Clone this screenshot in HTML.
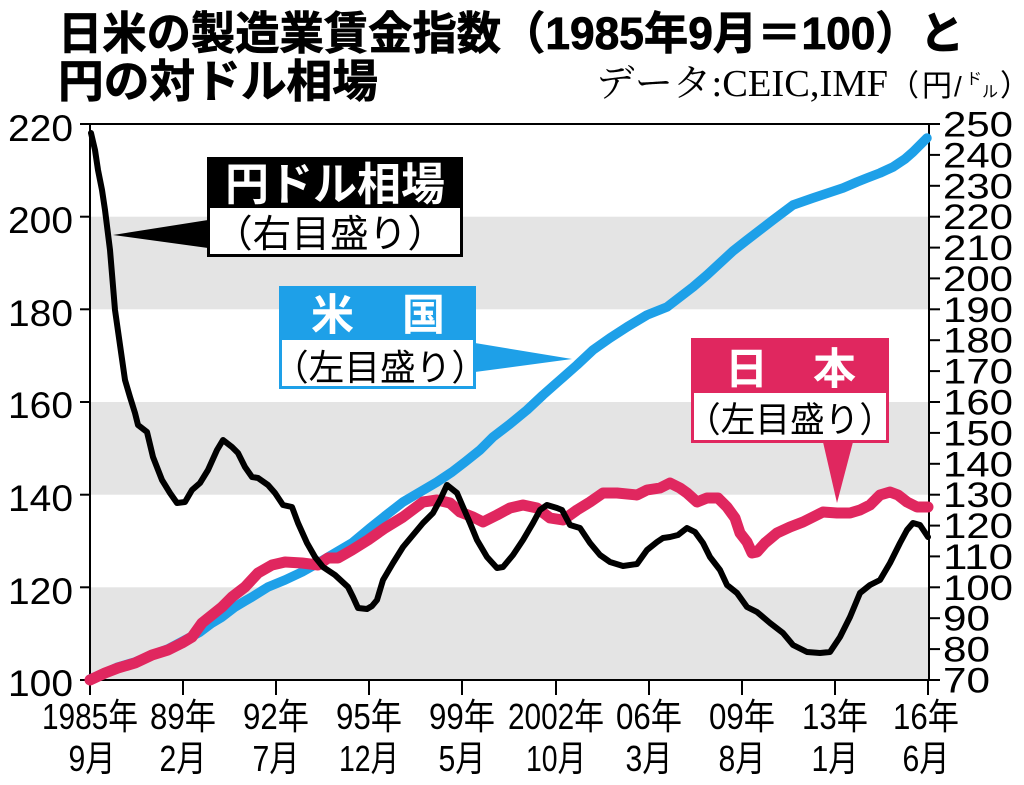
<!DOCTYPE html>
<html><head><meta charset="utf-8">
<style>
html,body{margin:0;padding:0;background:#fff;}
svg{display:block;}
.s{font-family:"Liberation Sans","Noto Sans CJK JP",sans-serif;}
.sr{font-family:"Liberation Serif","Noto Serif CJK JP",serif;}
</style></head>
<body>
<svg width="1024" height="785" viewBox="0 0 1024 785" xmlns="http://www.w3.org/2000/svg">
<rect x="0" y="0" width="1024" height="785" fill="#fff"/>
<!-- title -->
<text class="s" x="58" y="49" font-size="45" font-weight="bold" stroke="#000" stroke-width="0.8" textLength="906" lengthAdjust="spacingAndGlyphs">日米の製造業賃金指数（1985年9月＝100）と</text>
<text class="s" x="58" y="97" font-size="45" font-weight="bold" stroke="#000" stroke-width="0.8" textLength="320" lengthAdjust="spacingAndGlyphs">円の対ドル相場</text>
<text class="sr" x="596" y="96" font-size="38" textLength="292" lengthAdjust="spacingAndGlyphs">データ:CEIC,IMF</text>
<text class="s" x="889" y="96" font-size="30">（</text>
<text class="s" x="922" y="96" font-size="30">円</text>
<text class="s" x="954" y="96" font-size="28">/</text>
<text class="s" x="966" y="84" font-size="16">ド</text>
<text class="s" x="982" y="97" font-size="16">ル</text>
<text class="s" x="1000" y="96" font-size="30">）</text>

<!-- bands -->
<rect x="91" y="216.7" width="837" height="92.6" fill="#e4e4e4"/>
<rect x="91" y="402" width="837" height="92.7" fill="#e4e4e4"/>
<rect x="91" y="587.3" width="837" height="92.7" fill="#e4e4e4"/>

<!-- axes -->
<g stroke="#000" stroke-width="2" fill="none">
<line x1="90" y1="124" x2="90" y2="680"/>
<line x1="929" y1="124" x2="929" y2="680"/>
<line x1="80" y1="124" x2="940" y2="124"/>
<line x1="80" y1="680" x2="940" y2="680"/>
<line x1="80" y1="216.7" x2="90" y2="216.7"/>
<line x1="80" y1="309.3" x2="90" y2="309.3"/>
<line x1="80" y1="402" x2="90" y2="402"/>
<line x1="80" y1="494.7" x2="90" y2="494.7"/>
<line x1="80" y1="587.3" x2="90" y2="587.3"/>
<line x1="929" y1="154.9" x2="940" y2="154.9"/>
<line x1="929" y1="185.8" x2="940" y2="185.8"/>
<line x1="929" y1="216.7" x2="940" y2="216.7"/>
<line x1="929" y1="247.6" x2="940" y2="247.6"/>
<line x1="929" y1="278.4" x2="940" y2="278.4"/>
<line x1="929" y1="309.3" x2="940" y2="309.3"/>
<line x1="929" y1="340.2" x2="940" y2="340.2"/>
<line x1="929" y1="371.1" x2="940" y2="371.1"/>
<line x1="929" y1="402" x2="940" y2="402"/>
<line x1="929" y1="432.9" x2="940" y2="432.9"/>
<line x1="929" y1="463.8" x2="940" y2="463.8"/>
<line x1="929" y1="494.7" x2="940" y2="494.7"/>
<line x1="929" y1="525.6" x2="940" y2="525.6"/>
<line x1="929" y1="556.4" x2="940" y2="556.4"/>
<line x1="929" y1="587.3" x2="940" y2="587.3"/>
<line x1="929" y1="618.2" x2="940" y2="618.2"/>
<line x1="929" y1="649.1" x2="940" y2="649.1"/>
<line x1="90" y1="680" x2="90" y2="695"/>
<line x1="183" y1="680" x2="183" y2="695"/>
<line x1="276" y1="680" x2="276" y2="695"/>
<line x1="369" y1="680" x2="369" y2="695"/>
<line x1="462" y1="680" x2="462" y2="695"/>
<line x1="556" y1="680" x2="556" y2="695"/>
<line x1="649" y1="680" x2="649" y2="695"/>
<line x1="742" y1="680" x2="742" y2="695"/>
<line x1="835" y1="680" x2="835" y2="695"/>
<line x1="928" y1="680" x2="928" y2="695"/>
</g>

<!-- left labels -->
<g class="s" font-size="37" text-anchor="end" fill="#000">
<text x="73" y="141" textLength="65" lengthAdjust="spacingAndGlyphs">220</text>
<text x="73" y="233" textLength="65" lengthAdjust="spacingAndGlyphs">200</text>
<text x="73" y="326" textLength="65" lengthAdjust="spacingAndGlyphs">180</text>
<text x="73" y="418" textLength="65" lengthAdjust="spacingAndGlyphs">160</text>
<text x="73" y="511" textLength="65" lengthAdjust="spacingAndGlyphs">140</text>
<text x="73" y="604" textLength="65" lengthAdjust="spacingAndGlyphs">120</text>
<text x="73" y="696" textLength="65" lengthAdjust="spacingAndGlyphs">100</text>
</g>
<!-- right labels -->
<g class="s" font-size="35" fill="#000">
<text x="943" y="136.5" textLength="70" lengthAdjust="spacingAndGlyphs">250</text>
<text x="943" y="167.4" textLength="70" lengthAdjust="spacingAndGlyphs">240</text>
<text x="943" y="198.3" textLength="70" lengthAdjust="spacingAndGlyphs">230</text>
<text x="943" y="229.2" textLength="70" lengthAdjust="spacingAndGlyphs">220</text>
<text x="943" y="260.1" textLength="70" lengthAdjust="spacingAndGlyphs">210</text>
<text x="943" y="290.9" textLength="70" lengthAdjust="spacingAndGlyphs">200</text>
<text x="943" y="321.8" textLength="70" lengthAdjust="spacingAndGlyphs">190</text>
<text x="943" y="352.7" textLength="70" lengthAdjust="spacingAndGlyphs">180</text>
<text x="943" y="383.6" textLength="70" lengthAdjust="spacingAndGlyphs">170</text>
<text x="943" y="414.5" textLength="70" lengthAdjust="spacingAndGlyphs">160</text>
<text x="943" y="445.4" textLength="70" lengthAdjust="spacingAndGlyphs">150</text>
<text x="943" y="476.3" textLength="70" lengthAdjust="spacingAndGlyphs">140</text>
<text x="943" y="507.2" textLength="70" lengthAdjust="spacingAndGlyphs">130</text>
<text x="943" y="538.1" textLength="70" lengthAdjust="spacingAndGlyphs">120</text>
<text x="943" y="568.9" textLength="70" lengthAdjust="spacingAndGlyphs">110</text>
<text x="943" y="599.8" textLength="70" lengthAdjust="spacingAndGlyphs">100</text>
<text x="943" y="630.7" textLength="47" lengthAdjust="spacingAndGlyphs">90</text>
<text x="943" y="661.6" textLength="47" lengthAdjust="spacingAndGlyphs">80</text>
<text x="943" y="692.5" textLength="47" lengthAdjust="spacingAndGlyphs">70</text>
</g>

<!-- x labels -->
<g class="s" font-size="36" text-anchor="middle" fill="#000">
<text x="90" y="729" textLength="96" lengthAdjust="spacingAndGlyphs">1985年</text>
<text x="183" y="729" textLength="66" lengthAdjust="spacingAndGlyphs">89年</text>
<text x="276" y="729" textLength="66" lengthAdjust="spacingAndGlyphs">92年</text>
<text x="369" y="729" textLength="66" lengthAdjust="spacingAndGlyphs">95年</text>
<text x="462" y="729" textLength="66" lengthAdjust="spacingAndGlyphs">99年</text>
<text x="556" y="729" textLength="96" lengthAdjust="spacingAndGlyphs">2002年</text>
<text x="649" y="729" textLength="66" lengthAdjust="spacingAndGlyphs">06年</text>
<text x="742" y="729" textLength="66" lengthAdjust="spacingAndGlyphs">09年</text>
<text x="835" y="729" textLength="66" lengthAdjust="spacingAndGlyphs">13年</text>
<text x="926" y="729" textLength="66" lengthAdjust="spacingAndGlyphs">16年</text>
<text x="92" y="771" textLength="47" lengthAdjust="spacingAndGlyphs">9月</text>
<text x="183" y="771" textLength="47" lengthAdjust="spacingAndGlyphs">2月</text>
<text x="276" y="771" textLength="47" lengthAdjust="spacingAndGlyphs">7月</text>
<text x="369" y="771" textLength="60" lengthAdjust="spacingAndGlyphs">12月</text>
<text x="462" y="771" textLength="47" lengthAdjust="spacingAndGlyphs">5月</text>
<text x="556" y="771" textLength="60" lengthAdjust="spacingAndGlyphs">10月</text>
<text x="649" y="771" textLength="47" lengthAdjust="spacingAndGlyphs">3月</text>
<text x="742" y="771" textLength="47" lengthAdjust="spacingAndGlyphs">8月</text>
<text x="835" y="771" textLength="47" lengthAdjust="spacingAndGlyphs">1月</text>
<text x="926" y="771" textLength="47" lengthAdjust="spacingAndGlyphs">6月</text>
</g>

<!-- US line -->
<polyline fill="none" stroke="#1ea0e8" stroke-width="9.5" stroke-linejoin="round" stroke-linecap="round" points="90,679 105,673 118,667 135,662 152,655 168,649 185,640 200,632 212,623 222,617 235,607 245,601 252,597 268,587 285,580 302,572 318,563 335,553 352,543 370,528 385,516 403,502 420,492 437,482 452,472 465,462 480,450 493,437 510,424 527,410 543,395 560,380 577,365 593,350 610,338 627,327 647,315 667,307 680,297 693,287 707,275 720,263 733,251 747,240 760,230 773,220 793,205 813,198 828,193 843,188 857,182 867,178 880,173 893,167 905,159 913,152 920,145 927,138"/>
<!-- Japan line -->
<polyline fill="none" stroke="#e0275f" stroke-width="11" stroke-linejoin="round" stroke-linecap="round" points="90,680 105,673 118,668 135,663 152,655 168,650 182,643 192,637 202,623 212,615 222,607 232,597 245,587 258,573 272,565 285,562 302,563 318,565 328,558 338,558 352,550 368,540 385,528 403,517 423,502 437,500 450,503 460,512 473,517 483,522 497,515 510,508 523,505 537,508 550,518 563,520 577,510 590,502 603,493 617,493 637,495 647,490 660,488 670,483 680,488 687,493 697,502 707,498 718,498 727,507 735,518 740,533 747,542 752,553 757,552 765,543 777,533 790,527 803,522 817,515 823,512 837,513 850,513 860,510 870,505 880,495 890,492 898,495 907,502 917,507 928,507"/>
<!-- Yen line -->
<polyline fill="none" stroke="#000" stroke-width="6" stroke-linejoin="round" stroke-linecap="round" points="91,133 95,150 98,170 102,190 105,210 110,250 115,310 120,345 125,380 130,397 135,413 138,425 147,432 153,457 162,480 170,493 177,503 185,502 192,490 200,483 208,470 217,450 223,440 232,447 238,453 245,467 252,477 258,478 268,485 275,493 283,505 292,507 298,523 307,543 315,557 323,567 335,575 348,587 353,597 358,608 367,609 372,606 377,600 383,580 393,563 403,547 413,535 423,523 433,513 440,500 447,485 457,493 463,507 470,523 477,540 487,557 497,568 503,567 513,555 523,540 533,523 540,510 547,505 557,508 562,510 570,525 580,528 590,543 600,555 610,562 623,566 637,564 647,550 657,542 663,538 670,537 678,535 687,528 695,532 703,543 710,557 720,570 727,585 737,593 747,607 757,612 770,623 783,633 793,645 807,652 820,653 830,652 840,637 850,617 860,593 870,585 880,580 890,563 900,543 907,530 913,523 920,525 928,537"/>

<!-- Yen callout -->
<polygon points="208,220 208,248 113,235" fill="#000"/>
<rect x="208.5" y="158.5" width="253" height="97" fill="#fff" stroke="#000" stroke-width="3"/>
<rect x="207" y="157" width="256" height="51" fill="#000"/>
<text class="s" x="335" y="200" font-size="45" font-weight="bold" fill="#fff" text-anchor="middle" textLength="220" lengthAdjust="spacingAndGlyphs">円ドル相場</text>
<text class="s" x="330" y="247" font-size="38" fill="#000" text-anchor="middle" textLength="232" lengthAdjust="spacingAndGlyphs">（右目盛り）</text>

<!-- US callout -->
<polygon points="475,343 475,372 572,359" fill="#1ea0e8"/>
<rect x="280.5" y="287.5" width="194" height="100" fill="#fff" stroke="#1ea0e8" stroke-width="3"/>
<rect x="279" y="286" width="197" height="54" fill="#1ea0e8"/>
<text class="s" x="311" y="330" font-size="43" font-weight="bold" fill="#fff">米</text>
<text class="s" x="402" y="330" font-size="43" font-weight="bold" fill="#fff">国</text>
<text class="s" x="380" y="380" font-size="36" fill="#000" text-anchor="middle" textLength="214" lengthAdjust="spacingAndGlyphs">（左目盛り）</text>

<!-- Japan callout -->
<polygon points="823,442 853,442 837,503" fill="#e0275f"/>
<rect x="692.5" y="339.5" width="195" height="102" fill="#fff" stroke="#e0275f" stroke-width="3"/>
<rect x="691" y="338" width="198" height="55" fill="#e0275f"/>
<text class="s" x="725" y="384" font-size="43" font-weight="bold" fill="#fff">日</text>
<text class="s" x="813" y="384" font-size="43" font-weight="bold" fill="#fff">本</text>
<text class="s" x="790" y="432" font-size="35" fill="#000" text-anchor="middle" textLength="208" lengthAdjust="spacingAndGlyphs">（左目盛り）</text>
</svg>
</body></html>
